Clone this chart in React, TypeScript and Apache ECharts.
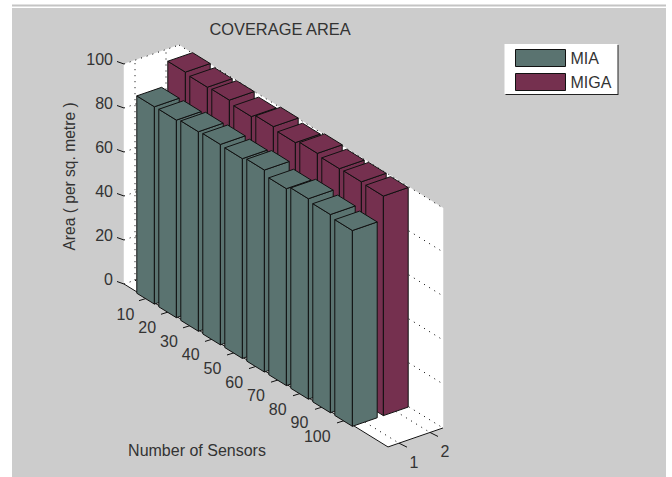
import React, { useEffect, useRef } from "react";
import * as echarts from "echarts";

const sensorLabels = ["10", "20", "30", "40", "50", "60", "70", "80", "90", "100"];
const depthLabels = ["1", "2"];
const areaTicks = [0, 20, 40, 60, 80, 100];
const miaValues = [89.7, 89.8, 90.7, 91.1, 90.8, 91.8, 89.5, 91.1, 90.1, 89];
const migaValues = [100.6, 99.9, 100.2, 98.9, 100.5, 99.4, 100.7, 99.9, 100.1, 99.8];

const GREEN = "#5a7370";
const RED = "#75304f";
const INK = "#111";
const TEXT = "#333";
const FONT = "Liberation Sans, Arial, sans-serif";

const X_MIN = -0.045;
const X_MAX = 11.955;
const X_SHIFT_Y = 13.58;
const DEPTH_DX = 31;
const DEPTH_DY = -10.7;
const DEPTH_MIN = 0.645;
const DEPTH_MAX = 2.42;
const BAR_HALF = 0.4;

function project(api: any, i: number, j: number, z: number): number[] {
  const [px, py] = api.coord([i, z]);
  const d = j - DEPTH_MIN;
  return [px + d * DEPTH_DX, py + (i - X_MIN) * X_SHIFT_Y + d * DEPTH_DY];
}

const poly = (points: number[][], fill: string) => ({
  type: "polygon",
  shape: { points },
  style: { fill, stroke: INK, lineWidth: 1 },
});

function barRenderer(depth: number, color: string) {
  return (_p: any, api: any) => {
    const i = api.value(0) as number;
    const z = api.value(1) as number;
    const a = i - BAR_HALF;
    const b = i + BAR_HALF;
    const f = depth - BAR_HALF;
    const k = depth + BAR_HALF;
    const P = (x: number, y: number, h: number) => project(api, x, y, h);
    return {
      type: "group",
      children: [
        poly([P(a, f, 0), P(b, f, 0), P(b, f, z), P(a, f, z)], color),
        poly([P(b, f, 0), P(b, k, 0), P(b, k, z), P(b, f, z)], color),
        poly([P(a, f, z), P(b, f, z), P(b, k, z), P(a, k, z)], color),
      ],
    };
  };
}

function frameRenderer(_p: any, api: any) {
  const P = (x: number, y: number, h: number) => project(api, x, y, h);
  const white = (points: number[][]) => ({ type: "polygon", shape: { points }, style: { fill: "#fff", stroke: "#fff", lineWidth: 0.5 } });
  const dotted = (p: number[], q: number[]) => ({
    type: "line",
    shape: { x1: p[0], y1: p[1], x2: q[0], y2: q[1] },
    style: { stroke: "#000", lineWidth: 1, lineDash: [1, 5] },
  });
  const solid = (p: number[], q: number[]) => ({
    type: "line",
    shape: { x1: p[0], y1: p[1], x2: q[0], y2: q[1] },
    style: { stroke: INK, lineWidth: 1 },
  });
  const label = (text: string, p: number[]) => ({
    type: "text",
    style: { text, x: p[0], y: p[1], fill: TEXT, font: `16px ${FONT}`, align: "center", verticalAlign: "middle" },
  });
  const Z = areaTicks[areaTicks.length - 1];
  const children: any[] = [
    white([P(X_MIN, DEPTH_MIN, 0), P(X_MIN, DEPTH_MAX, 0), P(X_MIN, DEPTH_MAX, Z), P(X_MIN, DEPTH_MIN, Z)]),
    white([P(X_MIN, DEPTH_MAX, 0), P(X_MAX, DEPTH_MAX, 0), P(X_MAX, DEPTH_MAX, Z), P(X_MIN, DEPTH_MAX, Z)]),
    white([P(X_MIN, DEPTH_MIN, 0), P(X_MAX, DEPTH_MIN, 0), P(X_MAX, DEPTH_MAX, 0), P(X_MIN, DEPTH_MAX, 0)]),
  ];
  areaTicks.forEach((t) => {
    children.push(dotted(P(X_MIN, DEPTH_MIN, t), P(X_MIN, DEPTH_MAX, t)));
    children.push(dotted(P(X_MIN, DEPTH_MAX, t), P(X_MAX, DEPTH_MAX, t)));
    const o = P(X_MIN, DEPTH_MIN, t);
    children.push(solid(o, [o[0] - 7, o[1] - 2.5]));
  });
  depthLabels.forEach((d) => {
    const j = Number(d);
    children.push(dotted(P(X_MIN, j, 0), P(X_MIN, j, Z)));
    children.push(dotted(P(X_MIN, j, 0), P(X_MAX, j, 0)));
    const o = P(X_MAX, j, 0);
    children.push(solid(o, [o[0] + 8, o[1] + 4]));
    children.push(label(d, [o[0] + 15, o[1] + 19]));
  });
  sensorLabels.forEach((s, idx) => {
    const i = idx + 1;
    children.push(dotted(P(i, DEPTH_MIN, 0), P(i, DEPTH_MAX, 0)));
    children.push(dotted(P(i, DEPTH_MAX, 0), P(i, DEPTH_MAX, Z)));
    const o = P(i, DEPTH_MIN, 0);
    children.push(solid(o, [o[0] - 8, o[1] + 2.5]));
    children.push(label(s, [o[0] - 21.5 - idx * 0.25 - (s.length - 2) * 4, o[1] + 16]));
  });
  children.push(solid(P(X_MIN, DEPTH_MIN, 0), P(X_MAX, DEPTH_MIN, 0)));
  children.push(solid(P(X_MAX, DEPTH_MIN, 0), P(X_MAX, DEPTH_MAX, 0)));
  return { type: "group", children };
}

export default function App() {
  const ref = useRef<HTMLDivElement>(null);
  useEffect(() => {
    const chart = echarts.init(ref.current!, undefined, { renderer: "svg" });
    const toData = (vals: number[]) => vals.map((v, idx) => [idx + 1, v]);
    chart.setOption({
      animation: false,
      title: {
        text: "COVERAGE AREA",
        left: 275,
        top: 16,
        textAlign: "center",
        textStyle: { fontFamily: FONT, fontSize: 16.4, fontWeight: "normal", color: TEXT },
      },
      graphic: [
        { type: "rect", z: -10, shape: { x: 12, y: 8, width: 654, height: 469 }, style: { fill: "#cccccc" } },
        { type: "line", z: -10, shape: { x1: 12, y1: 5.5, x2: 666, y2: 5.5 }, style: { stroke: "#c4c4c4", lineWidth: 2 } },
        { type: "rect", z: -9, shape: { x: 505.5, y: 45, width: 113, height: 50 }, style: { fill: "#222" } },
        { type: "rect", z: -8, shape: { x: 504.5, y: 44, width: 113, height: 50 }, style: { fill: "#fff" } },
        {
          type: "text",
          z: 5,
          x: 69,
          y: 176.5,
          rotation: Math.PI / 2,
          style: { text: "Area ( per sq. metre )", fill: TEXT, font: `15.6px ${FONT}`, align: "center", verticalAlign: "middle" },
        },
        {
          type: "text",
          z: 5,
          x: 197,
          y: 450,
          style: { text: "Number of Sensors", fill: TEXT, font: `16px ${FONT}`, align: "center", verticalAlign: "middle" },
        },
      ],
      legend: {
        data: ["MIA", "MIGA"],
        orient: "vertical",
        left: 515,
        top: 49,
        padding: 0,
        itemWidth: 50,
        itemHeight: 17,
        itemGap: 6,
        icon: "rect",
        selectedMode: false,
        itemStyle: { borderColor: INK, borderWidth: 1 },
        textStyle: { fontFamily: FONT, fontSize: 16, color: TEXT, padding: [0, 0, 0, 0] },
      },
      grid: { left: 124, top: 64, width: 264, height: 220 },
      xAxis: { type: "value", min: X_MIN, max: X_MAX, show: false },
      yAxis: {
        type: "value",
        min: 0,
        max: 100,
        interval: 20,
        axisLine: { show: true, lineStyle: { color: INK, width: 1 } },
        axisTick: { show: false },
        splitLine: { show: false },
        axisLabel: { margin: 11, verticalAlign: "bottom", lineHeight: 9, fontFamily: FONT, fontSize: 16, color: TEXT },
      },
      series: [
        { type: "custom", name: "frame", silent: true, z: 1, data: [[0, 0]], renderItem: frameRenderer },
        { type: "custom", name: "MIGA", silent: true, z: 2, itemStyle: { color: RED }, data: toData(migaValues), renderItem: barRenderer(2, RED) },
        { type: "custom", name: "MIA", silent: true, z: 3, itemStyle: { color: GREEN }, data: toData(miaValues), renderItem: barRenderer(1, GREEN) },
      ],
    });
    return () => chart.dispose();
  }, []);
  return <div ref={ref} style={{ position: "fixed", left: 0, top: 0, width: 672, height: 477, background: "#fff" }} />;
}
